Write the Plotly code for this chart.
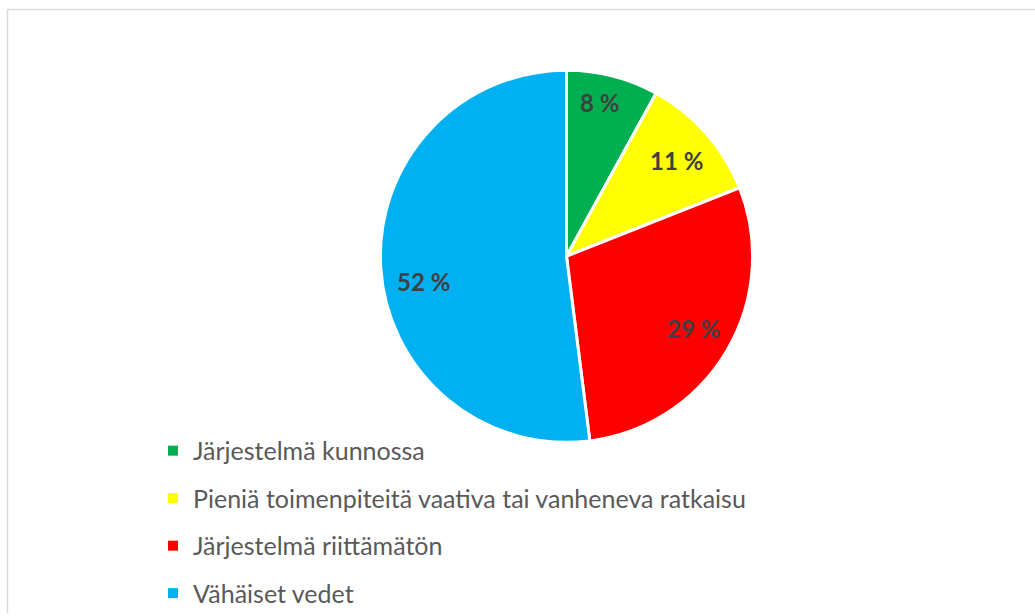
import math
import plotly.graph_objects as go

categories = ["Järjestelmä kunnossa",
              "Pieniä toimenpiteitä vaativa tai vanheneva ratkaisu",
              "Järjestelmä riittämätön",
              "Vähäiset vedet"]
values = [8, 11, 29, 52]
colors = ["#00B050", "#FFFF00", "#FF0000", "#00B0F0"]

# label placement style (fraction of radius, angular nudge in degrees)
label_r = [0.84, 0.78, 0.80, 0.79]
label_dang = [-2, 1, 0, -7.7]

W, H = 1035, 616
cx_px, cy_px, R_px = 566.5, 254.5, 184.5   # rendered pie geometry
dom_R, dom_cy = 187, 257.5                  # domain used to obtain it
dom_x = [(cx_px - dom_R) / W, (cx_px + dom_R) / W]
dom_y = [1 - (dom_cy + dom_R) / H, 1 - (dom_cy - dom_R) / H]

fig = go.Figure()
fig.add_trace(go.Pie(
    labels=categories, values=values, sort=False, direction="clockwise",
    rotation=0, marker=dict(colors=colors, line=dict(color="white", width=3)),
    textinfo="none", hoverinfo="label+percent", showlegend=False,
    domain=dict(x=dom_x, y=dom_y),
))

# percent labels along slice bisectors
total = sum(values)
cum = 0
annotations = []
for v, lr, da in zip(values, label_r, label_dang):
    mid = (cum + v / 2) / total * 2 * math.pi + math.radians(da)
    cum += v
    r = lr * R_px
    px = cx_px + r * math.sin(mid)
    py = cy_px - r * math.cos(mid)
    annotations.append(dict(
        x=px / W, y=1 - py / H, xref="paper", yref="paper",
        xanchor="center", yanchor="middle",
        text=f"{round(v / total * 100)} %", showarrow=False,
        font=dict(family="Lato", size=24, color="#404040", weight="bold"),
    ))

# legend entries
for i, (c, col) in enumerate(zip(categories, colors)):
    fig.add_trace(go.Scatter(
        x=[None], y=[None], mode="markers", name=c, legendgroup=f"g{i}",
        marker=dict(symbol="square", size=10, color=col),
        showlegend=True,
    ))

fig.update_layout(
    width=W, height=H, margin=dict(l=0, r=0, t=0, b=0),
    paper_bgcolor="white", plot_bgcolor="white",
    xaxis=dict(visible=False), yaxis=dict(visible=False),
    annotations=annotations,
    legend=dict(x=153 / W, y=1 - 430 / H, xanchor="left", yanchor="top",
                font=dict(family="Lato", size=25, color="#595959"),
                tracegroupgap=12, itemsizing="trace", bgcolor="rgba(0,0,0,0)"),
    shapes=[
        dict(type="line", xref="paper", yref="paper", x0=7.5 / W, x1=1.0, y0=1 - 9.5 / H, y1=1 - 9.5 / H,
             line=dict(color="#D9D9D9", width=1.5)),
        dict(type="line", xref="paper", yref="paper", x0=7.5 / W, x1=7.5 / W, y0=0, y1=1 - 9.5 / H,
             line=dict(color="#D9D9D9", width=1.5)),
    ],
)
fig.write_html("out.html", config={"displayModeBar": False},
               post_script="document.body.style.margin='0';")
